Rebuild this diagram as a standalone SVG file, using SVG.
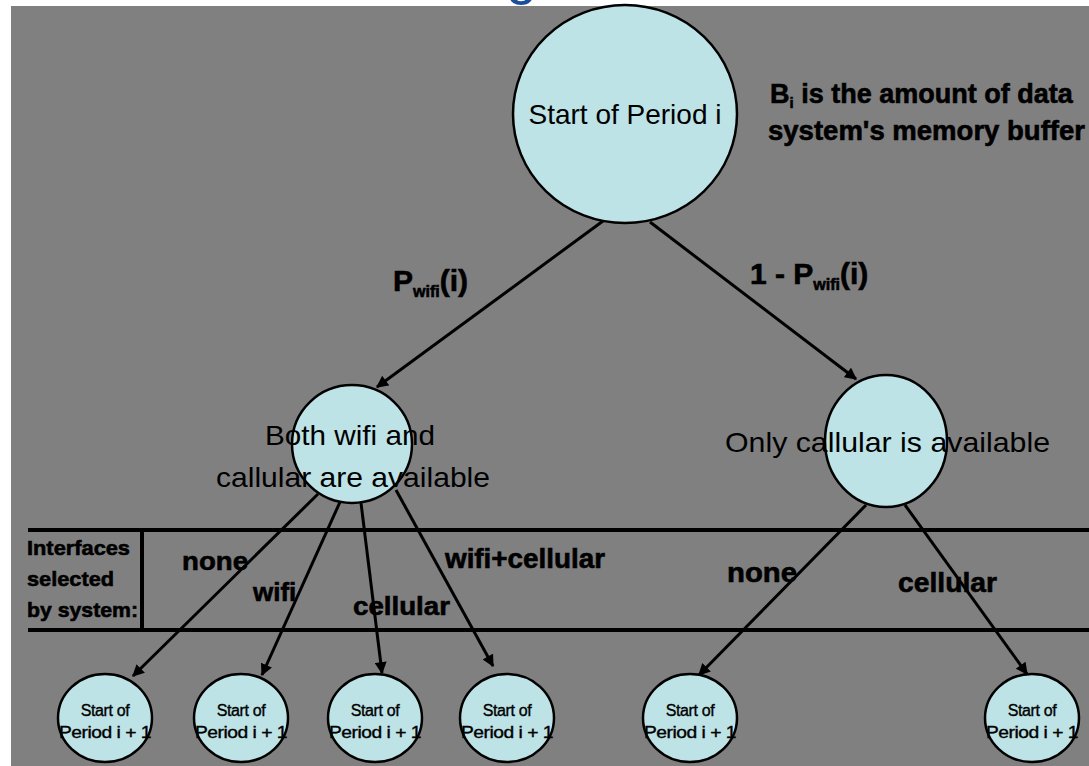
<svg xmlns="http://www.w3.org/2000/svg" width="1089" height="766" viewBox="0 0 1089 766">
  <style>
    .bg { fill: #808080; }
    .node { fill: #bde3e6; stroke: #000; stroke-width: 2.5; }
    .txt { font-family: "Liberation Sans", Arial, sans-serif; fill: #000; }
    .b { font-weight: bold; stroke: #000; stroke-width: 0.6; }
    .edge { stroke: #000; stroke-width: 3; fill: none; marker-end: url(#ah); }
    .rule { stroke: #000; stroke-width: 4; fill: none; }
    .small { font-size: 16px; letter-spacing: -0.4px; stroke: #000; stroke-width: 0.35; }
  </style>
  <defs>
    <marker id="ah" viewBox="0 0 10 10" refX="9" refY="5" markerWidth="4.2" markerHeight="4" orient="auto" markerUnits="strokeWidth">
      <path d="M0,0 L10,5 L0,10 z" fill="#000"/>
    </marker>
  </defs>

  <!-- page and slide area -->
  <rect x="0" y="0" width="1089" height="766" fill="#fff"/>
  <text class="txt" x="506" y="-7" font-size="56" style="fill:#1b4f99">g</text>
  <rect class="bg" x="11" y="6" width="1078" height="760"/>

  <!-- table rules for the interface choice row -->
  <g id="table">
    <line class="rule" x1="28" y1="530" x2="1089" y2="530"/>
    <line class="rule" x1="28" y1="630" x2="1089" y2="630"/>
    <line class="rule" x1="142" y1="530" x2="142" y2="630"/>
    <text class="txt b" font-size="21" x="27" y="555" textLength="103" lengthAdjust="spacingAndGlyphs">Interfaces</text>
    <text class="txt b" font-size="21" x="27" y="586" textLength="87" lengthAdjust="spacingAndGlyphs">selected</text>
    <text class="txt b" font-size="21" x="27" y="617" textLength="111" lengthAdjust="spacingAndGlyphs">by system:</text>
  </g>

  <!-- connectors -->
  <g id="connectors">
    <line class="edge" x1="603" y1="221" x2="377" y2="387"/>
    <line class="edge" x1="650" y1="222" x2="856" y2="379"/>
    <line class="edge" x1="318" y1="494" x2="133" y2="676"/>
    <line class="edge" x1="340" y1="502" x2="262" y2="675"/>
    <line class="edge" x1="361" y1="503" x2="382" y2="673"/>
    <line class="edge" x1="396" y1="490" x2="493" y2="666"/>
    <line class="edge" x1="866" y1="505" x2="699" y2="675"/>
    <line class="edge" x1="905" y1="505" x2="1027" y2="674"/>

    <text class="txt b" font-size="30" x="393" y="291">P<tspan font-size="16" dy="6">wifi</tspan><tspan dy="-6">(i)</tspan></text>
    <text class="txt b" font-size="30" x="750" y="284">1 - P<tspan font-size="16" dy="6">wifi</tspan><tspan dy="-6">(i)</tspan></text>

    <text class="txt b" font-size="26" x="182" y="570" textLength="66" lengthAdjust="spacingAndGlyphs">none</text>
    <text class="txt b" font-size="26" x="253" y="601">wifi</text>
    <text class="txt b" font-size="26" x="353" y="615" textLength="97" lengthAdjust="spacingAndGlyphs">cellular</text>
    <text class="txt b" font-size="27" x="445" y="568" textLength="160" lengthAdjust="spacingAndGlyphs">wifi+cellular</text>
    <text class="txt b" font-size="27" x="727" y="582" textLength="70" lengthAdjust="spacingAndGlyphs">none</text>
    <text class="txt b" font-size="27" x="898" y="592" textLength="99" lengthAdjust="spacingAndGlyphs">cellular</text>
  </g>

  <!-- root state -->
  <g id="start">
    <ellipse class="node" cx="625" cy="114" rx="112" ry="109"/>
    <text class="txt" font-size="28" x="625" y="124" text-anchor="middle">Start of Period i</text>
  </g>

  <g id="note">
    <text class="txt b" font-size="27" x="770" y="103">B<tspan font-size="15" dy="5">i</tspan><tspan dy="-5"> is the amount of data</tspan></text>
    <text class="txt b" font-size="27" x="768" y="140" textLength="317" lengthAdjust="spacingAndGlyphs">system's memory buffer</text>
  </g>

  <!-- availability states -->
  <g id="both">
    <ellipse class="node" cx="352" cy="444" rx="60" ry="59"/>
    <text class="txt" font-size="28" x="265" y="445" textLength="170" lengthAdjust="spacingAndGlyphs">Both wifi and</text>
    <text class="txt" font-size="28" x="216" y="487" textLength="274" lengthAdjust="spacingAndGlyphs">callular are available</text>
  </g>

  <g id="cellonly">
    <ellipse class="node" cx="886" cy="441" rx="61" ry="66"/>
    <text class="txt" font-size="28" x="725" y="452" textLength="325" lengthAdjust="spacingAndGlyphs">Only callular is available</text>
  </g>

  <!-- next-period states -->
  <g id="next1">
    <ellipse class="node" cx="105" cy="718" rx="47" ry="44"/>
    <text class="txt small" x="105" y="716" text-anchor="middle">Start of</text>
    <text class="txt small" x="105" y="738" text-anchor="middle" textLength="92" lengthAdjust="spacingAndGlyphs">Period i + 1</text>
  </g>
  <g id="next2">
    <ellipse class="node" cx="241" cy="718" rx="47" ry="44"/>
    <text class="txt small" x="241" y="716" text-anchor="middle">Start of</text>
    <text class="txt small" x="241" y="738" text-anchor="middle" textLength="92" lengthAdjust="spacingAndGlyphs">Period i + 1</text>
  </g>
  <g id="next3">
    <ellipse class="node" cx="375" cy="718" rx="47" ry="44"/>
    <text class="txt small" x="375" y="716" text-anchor="middle">Start of</text>
    <text class="txt small" x="375" y="738" text-anchor="middle" textLength="92" lengthAdjust="spacingAndGlyphs">Period i + 1</text>
  </g>
  <g id="next4">
    <ellipse class="node" cx="507" cy="718" rx="47" ry="44"/>
    <text class="txt small" x="507" y="716" text-anchor="middle">Start of</text>
    <text class="txt small" x="507" y="738" text-anchor="middle" textLength="92" lengthAdjust="spacingAndGlyphs">Period i + 1</text>
  </g>
  <g id="next5">
    <ellipse class="node" cx="690" cy="718" rx="47" ry="44"/>
    <text class="txt small" x="690" y="716" text-anchor="middle">Start of</text>
    <text class="txt small" x="690" y="738" text-anchor="middle" textLength="92" lengthAdjust="spacingAndGlyphs">Period i + 1</text>
  </g>
  <g id="next6">
    <ellipse class="node" cx="1032" cy="718" rx="47" ry="44"/>
    <text class="txt small" x="1032" y="716" text-anchor="middle">Start of</text>
    <text class="txt small" x="1032" y="738" text-anchor="middle" textLength="92" lengthAdjust="spacingAndGlyphs">Period i + 1</text>
  </g>
</svg>
